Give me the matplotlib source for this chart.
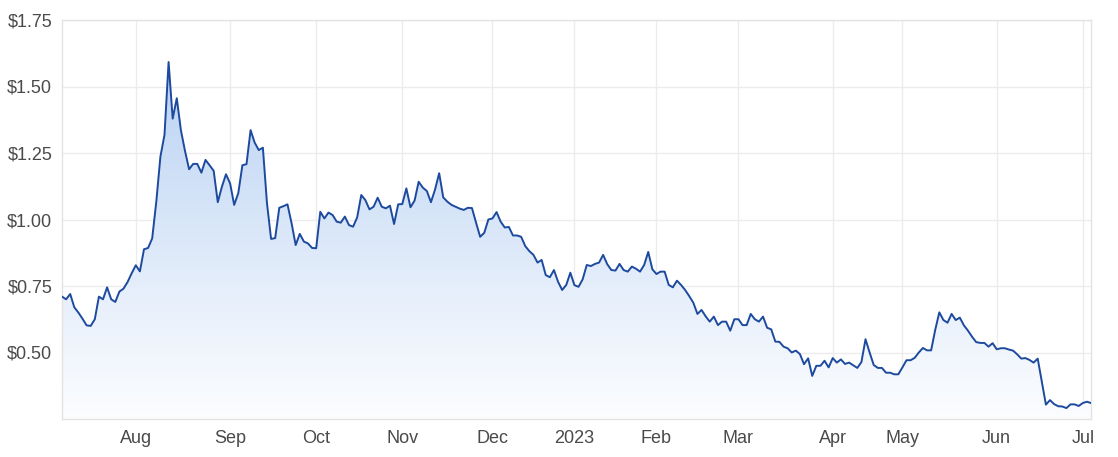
import numpy as np
import matplotlib
matplotlib.use("Agg")
import matplotlib.pyplot as plt
from matplotlib.ticker import FuncFormatter

# daily closing price, one value per trading day (Jul 2022 - Jul 2023)
prices = [
    0.71, 0.70, 0.72, 0.67, 0.65, 0.627, 0.602, 0.60, 0.625, 0.71,
    0.70, 0.745, 0.70, 0.69, 0.729, 0.74, 0.765, 0.798, 0.828, 0.805,
    0.888, 0.893, 0.929, 1.067, 1.236, 1.318, 1.592, 1.379, 1.456, 1.336,
    1.258, 1.189, 1.209, 1.209, 1.176, 1.224, 1.204, 1.183, 1.065, 1.123,
    1.17, 1.136, 1.055, 1.099, 1.204, 1.208, 1.336, 1.289, 1.261, 1.27,
    1.061, 0.927, 0.93, 1.044, 1.05, 1.057, 0.986, 0.904, 0.946, 0.917,
    0.91, 0.893, 0.892, 1.029, 1.004, 1.026, 1.017, 0.992, 0.988, 1.011,
    0.979, 0.973, 1.008, 1.092, 1.073, 1.038, 1.048, 1.082, 1.048, 1.042,
    1.052, 0.983, 1.057, 1.058, 1.117, 1.046, 1.071, 1.142, 1.12, 1.107,
    1.065, 1.113, 1.174, 1.083, 1.067, 1.055, 1.048, 1.041, 1.036, 1.044,
    1.043, 0.988, 0.935, 0.95, 1.0, 1.004, 1.028, 0.992, 0.97, 0.972,
    0.94, 0.94, 0.935, 0.90, 0.881, 0.867, 0.838, 0.848, 0.791, 0.783,
    0.81, 0.766, 0.735, 0.754, 0.80, 0.753, 0.747, 0.775, 0.829, 0.825,
    0.833, 0.838, 0.867, 0.832, 0.81, 0.808, 0.833, 0.81, 0.804, 0.823,
    0.815, 0.804, 0.829, 0.878, 0.813, 0.795, 0.804, 0.804, 0.754, 0.745,
    0.77, 0.754, 0.735, 0.712, 0.687, 0.645, 0.66, 0.636, 0.616, 0.635,
    0.603, 0.616, 0.616, 0.582, 0.625, 0.625, 0.603, 0.603, 0.645, 0.625,
    0.616, 0.635, 0.593, 0.587, 0.541, 0.54, 0.522, 0.516, 0.50, 0.507,
    0.494, 0.456, 0.478, 0.412, 0.45, 0.45, 0.469, 0.444, 0.479, 0.462,
    0.474, 0.457, 0.462, 0.452, 0.442, 0.464, 0.55, 0.50, 0.453, 0.442,
    0.442, 0.424, 0.424, 0.418, 0.418, 0.444, 0.471, 0.471, 0.48, 0.50,
    0.517, 0.508, 0.508, 0.585, 0.651, 0.622, 0.612, 0.645, 0.622, 0.631,
    0.602, 0.582, 0.559, 0.539, 0.536, 0.536, 0.522, 0.535, 0.512, 0.516,
    0.516, 0.511, 0.507, 0.493, 0.477, 0.479, 0.472, 0.462, 0.477, 0.39,
    0.304, 0.321, 0.306, 0.298, 0.297, 0.291, 0.305, 0.305, 0.299, 0.31,
    0.315, 0.31,
]

month_labels = ["Aug", "Sep", "Oct", "Nov", "Dec", "2023",
                "Feb", "Mar", "Apr", "May", "Jun", "Jul"]
# index of the first trading day of each month
month_idx = [18, 41, 62, 83, 105, 125, 145, 165, 188, 205, 228, 249]

y_ticks = [0.50, 0.75, 1.00, 1.25, 1.50, 1.75]

plt.rcParams['font.family'] = ['Liberation Sans', 'DejaVu Sans']

x = np.arange(len(prices))
y = np.array(prices)

fig = plt.figure(figsize=(11.18, 4.57), dpi=100)
ax = fig.add_axes([62 / 1118, 1 - 419 / 457, 1029 / 1118, 399 / 457])

ymin, ymax = 0.25, 1.75
ax.set_xlim(0, len(prices) - 1)
ax.set_ylim(ymin, ymax)

# gradient fill under the line
poly = ax.fill_between(x, y, ymin, color="none", lw=0)
top_rgb = np.array([0.72, 0.82, 0.95])
bot_rgb = np.array([0.985, 0.99, 1.0])
t = np.linspace(0, 1, 256)[:, None]  # 0 at bottom, 1 at top of the axes
grad = bot_rgb + (top_rgb - bot_rgb) * np.clip(t / 0.9, 0, 1) ** 1.1
img = np.repeat(grad[:, None, :], 2, axis=1)
im = ax.imshow(img, origin="lower", aspect="auto",
               extent=[0, len(prices) - 1, ymin, ymax], zorder=1)
im.set_clip_path(poly.get_paths()[0], transform=ax.transData)

ax.plot(x, y, color="#1d4a9e", lw=1.4, zorder=3)

ax.set_yticks(y_ticks)
ax.yaxis.set_major_formatter(FuncFormatter(lambda v, p: f"${v:.2f}"))
ax.set_xticks(month_idx)
ax.set_xticklabels(month_labels)

ax.grid(True, color="#ececec", lw=1, zorder=0)
ax.set_axisbelow(True)
for s in ax.spines.values():
    s.set_color("#e3e3e3")
    s.set_linewidth(1)

ax.tick_params(axis="both", length=0, labelsize=13, colors="#4a4a4a")
ax.tick_params(axis="y", pad=7)
ax.tick_params(axis="x", pad=8)

fig.savefig("out.png", dpi=100)
